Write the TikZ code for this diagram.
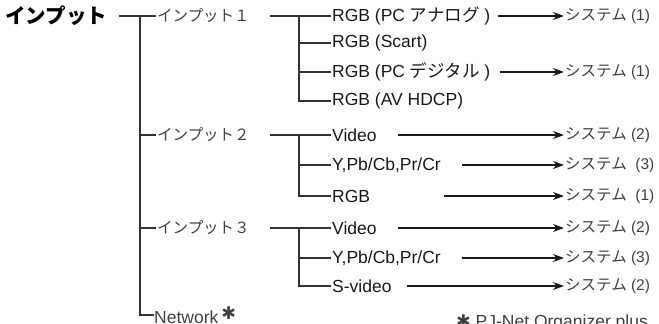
\documentclass[tikz,border=0pt]{standalone}
\usepackage{fontspec}
\setmainfont{Liberation Sans}
\newfontfamily\jp{Noto Sans CJK JP}
\newfontfamily\dingfont{DejaVu Sans}
\usetikzlibrary{arrows.meta, positioning}

\begin{document}
\begin{tikzpicture}[x=1pt, y=-1pt,
        src/.style={anchor=west, inner sep=1pt, font=\fontsize{17.5}{20}\selectfont, text=black!90},
        sys/.style={anchor=west, inner sep=1pt, font=\fontsize{15.5}{18}\selectfont, text=black!75},
        inp/.style={anchor=west, inner sep=1pt, font=\jp\fontsize{15.5}{18}\selectfont, text=black!75},
        tree/.style={line width=1.3pt, black!80},
        arrow/.style={-{Stealth[length=11pt, width=8pt]}, line width=1.2pt, black!90}
    ]
        \useasboundingbox (0,0) rectangle (659,324);

        % === Root and inputs ===
        \node[anchor=west, inner sep=0pt, font=\jp\bfseries\fontsize{20.5}{22}\selectfont] (title) at (5,16) {インプット};

        \node[inp] (in1) at (156,16)  {インプット１};
        \node[inp] (in2) at (156,135) {インプット２};
        \node[inp] (in3) at (156,228) {インプット３};
        \node[src, text=black!75, inner sep=0pt] (net) at (154,315) {Network\,\raisebox{4pt}{\dingfont ✱}};

        \coordinate (trunk) at (140,16);
        \draw[tree] ([xshift=12pt]title.east) -- (in1.west);
        \draw[tree] (trunk) |- (net.west);
        \draw[tree] (trunk |- in2.west) -- (in2.west);
        \draw[tree] (trunk |- in3.west) -- (in3.west);

        % === Sources ===
        \node[src] (s11) at (331,16)  {RGB (PC {\jp アナログ} )};
        \node[src] (s12) at (331,43)  {RGB (Scart)};
        \node[src] (s13) at (331,72)  {RGB (PC {\jp デジタル} )};
        \node[src] (s14) at (331,101) {RGB (AV HDCP)};

        \node[src] (s21) at (331,135) {Video};
        \node[src] (s22) at (331,165) {Y,Pb/Cb,Pr/Cr};
        \node[src] (s23) at (331,196) {RGB};

        \node[src] (s31) at (331,228) {Video};
        \node[src] (s32) at (331,258) {Y,Pb/Cb,Pr/Cr};
        \node[src] (s33) at (331,286) {S-video};

        % Branches from each input
        \coordinate (b1) at (299,16);
        \coordinate (b2) at (299,135);
        \coordinate (b3) at (299,228);
        \draw[tree] ([xshift=19pt]in1.east) -- (s11.west);
        \draw[tree] (b1) |- (s14.west);
        \draw[tree] (b1 |- s12.west) -- (s12.west);
        \draw[tree] (b1 |- s13.west) -- (s13.west);

        \draw[tree] ([xshift=19pt]in2.east) -- (s21.west);
        \draw[tree] (b2) |- (s23.west);
        \draw[tree] (b2 |- s22.west) -- (s22.west);

        \draw[tree] ([xshift=19pt]in3.east) -- (s31.west);
        \draw[tree] (b3) |- (s33.west);
        \draw[tree] (b3 |- s32.west) -- (s32.west);

        % === Systems ===
        \node[sys] (y11) at (564,16)  {{\jp システム} (1)};
        \node[sys] (y13) at (564,72)  {{\jp システム} (1)};
        \node[sys] (y21) at (564,135) {{\jp システム} (2)};
        \node[sys] (y22) at (564,165) {{\jp システム}\ \ (3)};
        \node[sys] (y23) at (564,196) {{\jp システム}\ \ (1)};
        \node[sys] (y31) at (564,228) {{\jp システム} (2)};
        \node[sys] (y32) at (564,258) {{\jp システム} (3)};
        \node[sys] (y33) at (564,286) {{\jp システム} (2)};

        \draw[arrow] ([xshift=6pt]s11.east) -- (y11.west);
        \draw[arrow] ([xshift=8pt]s13.east) -- (y13.west);
        \draw[arrow] ([xshift=20pt]s21.east) -- (y21.west);
        \draw[arrow] ([xshift=20pt]s22.east) -- (y22.west);
        \draw[arrow] ([xshift=73pt]s23.east) -- (y23.west);
        \draw[arrow] ([xshift=20pt]s31.east) -- (y31.west);
        \draw[arrow] ([xshift=20pt]s32.east) -- (y32.west);
        \draw[arrow] ([xshift=14pt]s33.east) -- (y33.west);

        % Footnote
        \node[anchor=base west, inner sep=0pt, font=\fontsize{17.5}{20}\selectfont, text=black!75] (note) at (456,327)
            {{\dingfont ✱} PJ-Net Organizer plus};
    \end{tikzpicture}
\end{document}
